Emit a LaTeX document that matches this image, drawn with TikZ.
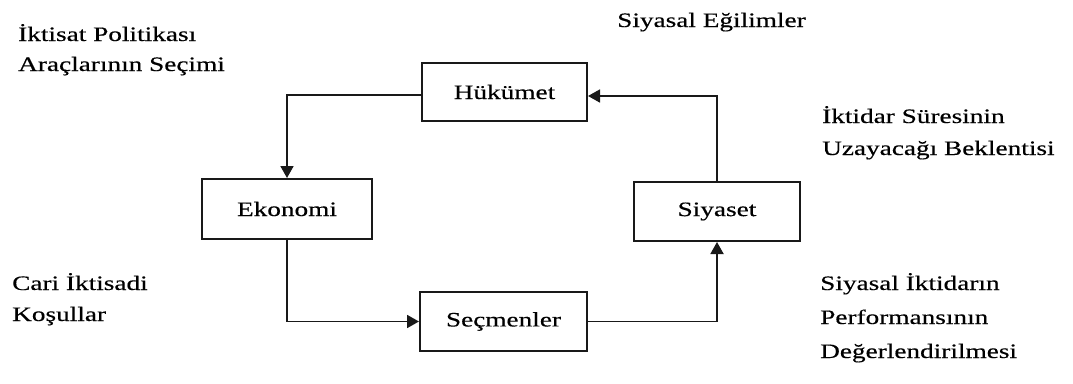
\documentclass[tikz,border=0pt]{standalone}
\usepackage{fontspec}
\setmainfont{Liberation Serif}[FakeStretch=1.33,FakeBold=0.4]
\usetikzlibrary{arrows.meta}
\begin{document}
\begin{tikzpicture}[x=1pt,y=-1pt,
  every node/.style={font=\fontsize{20.5}{24}\selectfont, text=black},
  box/.style={draw=black!90, line width=2pt, minimum width=#1, inner sep=0pt},
  lbl/.style={anchor=base west, inner sep=0pt},
  conn/.style={draw=black!90, line width=1.8pt, -{Triangle[length=12pt,width=13pt]}}]
\useasboundingbox (0,0) rectangle (1073,383);
\node[box=165pt, minimum height=58pt] (hk) at (504.5,92) {Hükümet};
\node[box=170pt, minimum height=60pt] (ek) at (287,209) {Ekonomi};
\node[box=166pt, minimum height=59pt] (sy) at (717,211.5) {Siyaset};
\node[box=167pt, minimum height=59pt] (sc) at (503.5,321.5) {Seçmenler};
\draw[conn] ([yshift=-3pt]hk.west) -| (ek.north);
\draw[conn] (ek.south) |- (sc.west);
\draw[conn] (sc.east) -| (sy.south);
\draw[conn] (sy.north) |- ([yshift=-4pt]hk.east);
\node[lbl] (t1) at (18,41) {İktisat Politikası};
\node[lbl] (t2) at (18,71) {Araçlarının Seçimi};
\node[lbl] (t3) at (617,27) {Siyasal Eğilimler};
\node[lbl] (t4) at (822,123) {İktidar Süresinin};
\node[lbl] (t5) at (822,155) {Uzayacağı Beklentisi};
\node[lbl] (t6) at (12,290) {Cari İktisadi};
\node[lbl] (t7) at (12,321) {Koşullar};
\node[lbl] (t8) at (820,290) {Siyasal İktidarın};
\node[lbl] (t9) at (820,324) {Performansının};
\node[lbl] (t10) at (820,358) {Değerlendirilmesi};
\end{tikzpicture}
\end{document}
